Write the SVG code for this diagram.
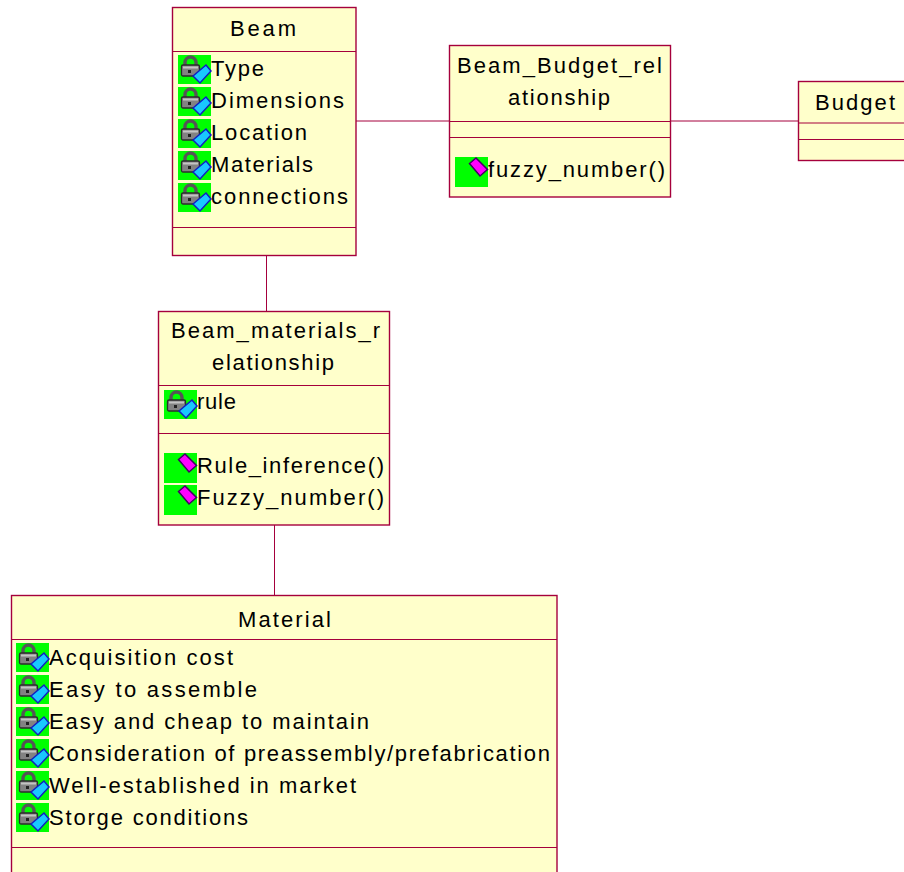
<svg xmlns="http://www.w3.org/2000/svg" width="904" height="872" viewBox="0 0 904 872">
<style>
.box{fill:#ffffcb;stroke:#a5003c;stroke-width:1.4}
.div{stroke:#a5003c;stroke-width:1.2;fill:none}
.conn{stroke:#a5003c;stroke-width:1;fill:none}
text{font-family:"Liberation Sans",Arial,sans-serif;font-size:22px;fill:#000}
</style>
<defs>
<g id="attr">
<rect x="0" y="0" width="33" height="29" fill="#00ff00"/>
<path d="M7 10V7.500a5.500 5.500 0 0 1 11 0V10" fill="none" stroke="#555" stroke-width="3.400"/>
<rect x="3.500" y="10" width="18" height="11" rx="1.500" fill="#828282" stroke="#2c2c2c" stroke-width="1.300"/>
<rect x="5" y="11.500" width="15" height="2" fill="#c4c4c4"/>
<rect x="10" y="15" width="3" height="3" fill="#222"/>
<path d="M15 21L28 10L33 16L22 28Z" fill="#19c8ff" stroke="#1020c0" stroke-width="1.500"/>
</g>
<g id="op">
<rect x="0" y="0" width="33" height="30" fill="#00ff00"/>
<path d="M14.500 6.500L21 1L32.500 12.500L25 19Z" fill="#ff00ff" stroke="#400060" stroke-width="1.500"/>
</g>
</defs>
<g id="connectors">
<path class="conn" d="M356 121H449.500M670.500 121H798.500M266.500 255V311.500M274.500 525V595.500"/>
</g>
<g id="node-beam">
<rect class="box" x="172.500" y="7.500" width="183.500" height="248"/>
<path class="div" d="M172.500 51.500H356M172.500 227.500H356"/>
<text x="230" y="36" textLength="66">Beam</text>
<use href="#attr" x="178" y="55"/><text x="211" y="76" textLength="53">Type</text>
<use href="#attr" x="178" y="87"/><text x="211" y="108" textLength="133">Dimensions</text>
<use href="#attr" x="178" y="119"/><text x="211" y="140" textLength="96">Location</text>
<use href="#attr" x="178" y="151"/><text x="211" y="172" textLength="102">Materials</text>
<use href="#attr" x="178" y="183"/><text x="211" y="204" textLength="137">connections</text>
</g>
<g id="node-beam-budget">
<rect class="box" x="449.500" y="45.500" width="221" height="151.500"/>
<path class="div" d="M449.500 121.500H670.500M449.500 137.500H670.500"/>
<text x="457" y="73" textLength="205">Beam_Budget_rel</text>
<text x="508" y="105" textLength="102">ationship</text>
<use href="#op" x="455" y="157"/><text x="488" y="177" textLength="177">fuzzy_number()</text>
</g>
<g id="node-budget">
<rect class="box" x="798.500" y="81.500" width="120" height="79"/>
<path class="div" d="M798.500 123H918M798.500 139.500H918"/>
<text x="815" y="110" textLength="80">Budget</text>
</g>
<g id="node-beam-materials">
<rect class="box" x="158.500" y="311.500" width="231" height="213.500"/>
<path class="div" d="M158.500 385.500H389.500M158.500 433.500H389.500"/>
<text x="171" y="338" textLength="209">Beam_materials_r</text>
<text x="212" y="370" textLength="122">elationship</text>
<use href="#attr" x="164" y="390"/><text x="197" y="409" textLength="39">rule</text>
<use href="#op" x="164" y="453"/><text x="197" y="473" textLength="187">Rule_inference()</text>
<use href="#op" x="164" y="485"/><text x="197" y="505" textLength="187">Fuzzy_number()</text>
</g>
<g id="node-material">
<rect class="box" x="11.500" y="595.500" width="545.500" height="290"/>
<path class="div" d="M11.500 639.500H557M11.500 847.500H557"/>
<text x="238" y="627" textLength="93">Material</text>
<use href="#attr" x="16" y="643"/><text x="49" y="665" textLength="184">Acquisition cost</text>
<use href="#attr" x="16" y="675"/><text x="49" y="697" textLength="208">Easy to assemble</text>
<use href="#attr" x="16" y="707"/><text x="49" y="729" textLength="320">Easy and cheap to maintain</text>
<use href="#attr" x="16" y="739"/><text x="49" y="761" textLength="501">Consideration of preassembly/prefabrication</text>
<use href="#attr" x="16" y="771"/><text x="49" y="793" textLength="307">Well-established in market</text>
<use href="#attr" x="16" y="803"/><text x="49" y="825" textLength="199">Storge conditions</text>
</g>
</svg>
